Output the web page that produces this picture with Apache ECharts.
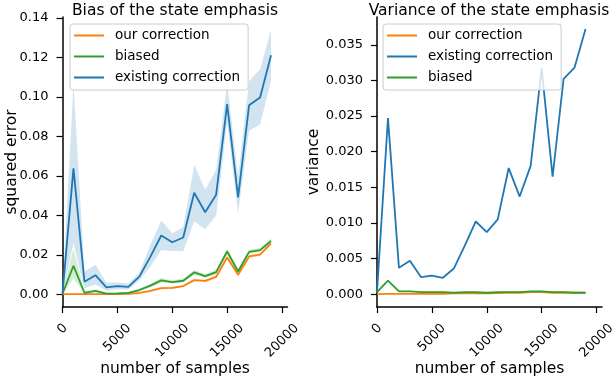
<!DOCTYPE html>
<html>
<head>
<meta charset="utf-8">
<script src="https://cdn.jsdelivr.net/npm/echarts@6/dist/echarts.min.js"></script>
<style>
  html, body { margin: 0; padding: 0; background: #fff; }
  #chart { width: 612px; height: 378px; }
</style>
</head>
<body>
<div id="chart"></div>
<script>
// number of samples on the x axis (same for both panels)
const samples = [0, 1000, 2000, 3000, 4000, 5000, 6000, 7000, 8000, 9000,
  10000, 11000, 12000, 13000, 14000, 15000, 16000, 17000, 18000, 19000]

// left panel: squared error
const biasOurs = [0.0001, 0.0001, 0.0001, 0.0001, 0.0001, 0.0001, 0.0003, 0.0007, 0.0018, 0.0032,
  0.0033, 0.0042, 0.0072, 0.0068, 0.0089, 0.0187, 0.0099, 0.0192, 0.0201, 0.0258]
const biasOursLow = [0.0000, 0.0000, 0.0000, 0.0000, 0.0000, 0.0000, 0.0001, 0.0004, 0.0013, 0.0026,
  0.0027, 0.0036, 0.0065, 0.0061, 0.0081, 0.0177, 0.0090, 0.0184, 0.0193, 0.0249]
const biasOursHigh = [0.0003, 0.0004, 0.0003, 0.0003, 0.0003, 0.0003, 0.0005, 0.0010, 0.0023, 0.0038,
  0.0039, 0.0048, 0.0079, 0.0075, 0.0097, 0.0197, 0.0108, 0.0200, 0.0209, 0.0267]

const biasBiased = [0.0003, 0.0145, 0.0008, 0.0018, 0.0004, 0.0005, 0.0007, 0.0022, 0.0044, 0.0071,
  0.0062, 0.0069, 0.0111, 0.0092, 0.0113, 0.0217, 0.0116, 0.0215, 0.0224, 0.0271]
const biasBiasedLow = [0.0000, 0.0080, 0.0004, 0.0010, 0.0002, 0.0003, 0.0004, 0.0015, 0.0035, 0.0060,
  0.0055, 0.0060, 0.0098, 0.0082, 0.0102, 0.0202, 0.0105, 0.0205, 0.0214, 0.0260]
const biasBiasedHigh = [0.0008, 0.0230, 0.0014, 0.0026, 0.0008, 0.0008, 0.0010, 0.0030, 0.0053, 0.0083,
  0.0071, 0.0080, 0.0124, 0.0103, 0.0125, 0.0232, 0.0128, 0.0226, 0.0235, 0.0284]

const biasExisting = [0.0005, 0.0638, 0.0064, 0.0097, 0.0035, 0.0042, 0.0038, 0.0090, 0.0190, 0.0298,
  0.0264, 0.0288, 0.0515, 0.0416, 0.0505, 0.0964, 0.0491, 0.0958, 0.0997, 0.1211]
const biasExistingLow = [0.0000, 0.0260, 0.0030, 0.0050, 0.0020, 0.0025, 0.0025, 0.0070, 0.0140, 0.0225,
  0.0220, 0.0218, 0.0370, 0.0330, 0.0400, 0.0870, 0.0410, 0.0830, 0.0860, 0.1080]
const biasExistingHigh = [0.0010, 0.1070, 0.0115, 0.0150, 0.0060, 0.0060, 0.0055, 0.0110, 0.0250, 0.0374,
  0.0310, 0.0340, 0.0656, 0.0530, 0.0630, 0.1070, 0.0600, 0.1080, 0.1140, 0.1340]

// right panel: variance
const varOurs = [0.0000, 0.00005, 0.00005, 0.00005, 0.00005, 0.00005, 0.00005, 0.0001, 0.0001, 0.0001,
  0.0001, 0.00015, 0.0002, 0.0002, 0.0003, 0.0003, 0.0002, 0.0002, 0.0002, 0.0002]
const varExisting = [0.0003, 0.0247, 0.0037, 0.0047, 0.0024, 0.0026, 0.0023, 0.0036, 0.0068, 0.0102,
  0.0087, 0.0105, 0.0177, 0.0137, 0.0180, 0.0317, 0.0165, 0.0302, 0.0318, 0.0372]
const varBiased = [0.0003, 0.0019, 0.0004, 0.0004, 0.0003, 0.0003, 0.0003, 0.0002, 0.0003, 0.0003,
  0.0002, 0.0003, 0.0003, 0.0003, 0.0004, 0.0004, 0.0003, 0.0003, 0.0002, 0.0002]

// tick labels
const xTicks = [0, 5000, 10000, 15000, 20000]
const biasTicks = [0, 0.02, 0.04, 0.06, 0.08, 0.10, 0.12, 0.14]
const varTicks = [0, 0.005, 0.010, 0.015, 0.020, 0.025, 0.030, 0.035]

const FONT = 'DejaVu Sans'
const BLUE = '#1f77b4'
const ORANGE = '#ff7f0e'
const GREEN = '#2ca02c'
const TICK_SIZE = 13

// rotated x labels: pad so each label's box is centred under its tick like matplotlib
const xRich = {}
for (let n = 1; n <= 5; n++) {
  const p = Math.round(n * 0.636 * TICK_SIZE / 2)
  xRich['n' + n] = { padding: [p, p, 0, 0], fontFamily: FONT, fontSize: TICK_SIZE, lineHeight: 15, color: '#000' }
}

function xAxisFor(idx) {
  return {
    type: 'value', gridIndex: idx, min: 0, max: 20500,
    name: 'number of samples', nameLocation: 'middle', nameGap: 54, nameMoveOverlap: false,
    nameTextStyle: { fontFamily: FONT, fontSize: 15.5, color: '#000' },
    splitLine: { show: false },
    axisLine: { show: true, onZero: false, lineStyle: { color: '#000', width: 1.5 } },
    axisTick: { show: true, length: 6, customValues: xTicks, lineStyle: { color: '#000', width: 1.2 } },
    axisLabel: {
      customValues: xTicks, rotate: 45, align: 'center', verticalAlign: 'middle', margin: 19,
      formatter: v => '{n' + String(v).length + '|' + v + '}',
      rich: xRich
    }
  }
}

function yAxisFor(idx, min, max, ticks, digits, name, gap) {
  return {
    type: 'value', gridIndex: idx, min: min, max: max,
    name: name, nameLocation: 'middle', nameGap: gap, nameMoveOverlap: false,
    nameTextStyle: { fontFamily: FONT, fontSize: 15.5, color: '#000' },
    splitLine: { show: false },
    axisLine: { show: true, onZero: false, lineStyle: { color: '#000', width: 1.5 } },
    axisTick: { show: true, length: 6, customValues: ticks, lineStyle: { color: '#000', width: 1.2 } },
    axisLabel: {
      customValues: ticks, margin: 14, fontFamily: FONT, fontSize: TICK_SIZE, color: '#000',
      formatter: v => v.toFixed(digits)
    }
  }
}

function lineSeries(name, values, color, idx) {
  return {
    name: name, type: 'line', symbol: 'none', z: 3,
    xAxisIndex: idx, yAxisIndex: idx,
    data: samples.map((x, i) => [x, values[i]]),
    lineStyle: { color: color, width: 1.8 },
    itemStyle: { color: color },
    emphasis: { disabled: true }
  }
}

// shaded band between lower and upper, drawn as one polygon through the axes' coord()
function bandSeries(lower, upper, color, idx) {
  return {
    type: 'custom', xAxisIndex: idx, yAxisIndex: idx, z: 1, silent: true,
    data: samples.map((x, i) => [x, lower[i], upper[i]]),
    encode: { x: 0, y: [1, 2] },
    renderItem: (params, api) => {
      if (params.dataIndex !== 0) return null
      const top = samples.map((x, i) => api.coord([x, upper[i]]))
      const bottom = samples.map((x, i) => api.coord([x, lower[i]])).reverse()
      return { type: 'polygon', shape: { points: top.concat(bottom) }, style: { fill: color } }
    }
  }
}

function legendFor(left, names) {
  return {
    orient: 'vertical', left: left, top: 24,
    data: names, icon: 'rect', itemWidth: 30, itemHeight: 2, itemGap: 6,
    padding: [4, 8, 5, 4],
    backgroundColor: 'rgba(255,255,255,0.8)',
    borderColor: '#cccccc', borderWidth: 1, borderRadius: 3,
    selectedMode: false,
    textStyle: { fontFamily: FONT, fontSize: 13.5, color: '#000', lineHeight: 15, padding: [0, 0, 0, 6] }
  }
}

const chart = echarts.init(document.getElementById('chart'), null, { renderer: 'canvas' })

const option = {
  animation: false,
  backgroundColor: '#fff',
  title: [
    { text: 'Bias of the state emphasis', left: 175, top: 3, padding: 0, textAlign: 'center',
      textStyle: { fontFamily: FONT, fontSize: 15.5, fontWeight: 'normal', color: '#000' } },
    { text: 'Variance of the state emphasis', left: 489, top: 3, padding: 0, textAlign: 'center',
      textStyle: { fontFamily: FONT, fontSize: 15.5, fontWeight: 'normal', color: '#000' } }
  ],
  legend: [
    legendFor(70, ['our correction', 'biased', 'existing correction']),
    legendFor(383, ['our correction', 'existing correction', 'biased'])
  ],
  grid: [
    { left: 62.5, top: 17, width: 225, height: 290, outerBoundsMode: 'none' },
    { left: 377, top: 17, width: 225, height: 290, outerBoundsMode: 'none' }
  ],
  xAxis: [xAxisFor(0), xAxisFor(1)],
  yAxis: [
    yAxisFor(0, -0.0064, 0.1405, biasTicks, 2, 'squared error', 43),
    yAxisFor(1, -0.0018, 0.0389, varTicks, 3, 'variance', 55)
  ],
  series: [
    bandSeries(biasOursLow, biasOursHigh, 'rgba(255,127,14,0.2)', 0),
    bandSeries(biasBiasedLow, biasBiasedHigh, 'rgba(44,160,44,0.2)', 0),
    bandSeries(biasExistingLow, biasExistingHigh, 'rgba(31,119,180,0.2)', 0),
    lineSeries('our correction', biasOurs, ORANGE, 0),
    lineSeries('biased', biasBiased, GREEN, 0),
    lineSeries('existing correction', biasExisting, BLUE, 0),
    lineSeries('our correction', varOurs, ORANGE, 1),
    lineSeries('existing correction', varExisting, BLUE, 1),
    lineSeries('biased', varBiased, GREEN, 1)
  ]
}

chart.setOption(option)
</script>
</body>
</html>
